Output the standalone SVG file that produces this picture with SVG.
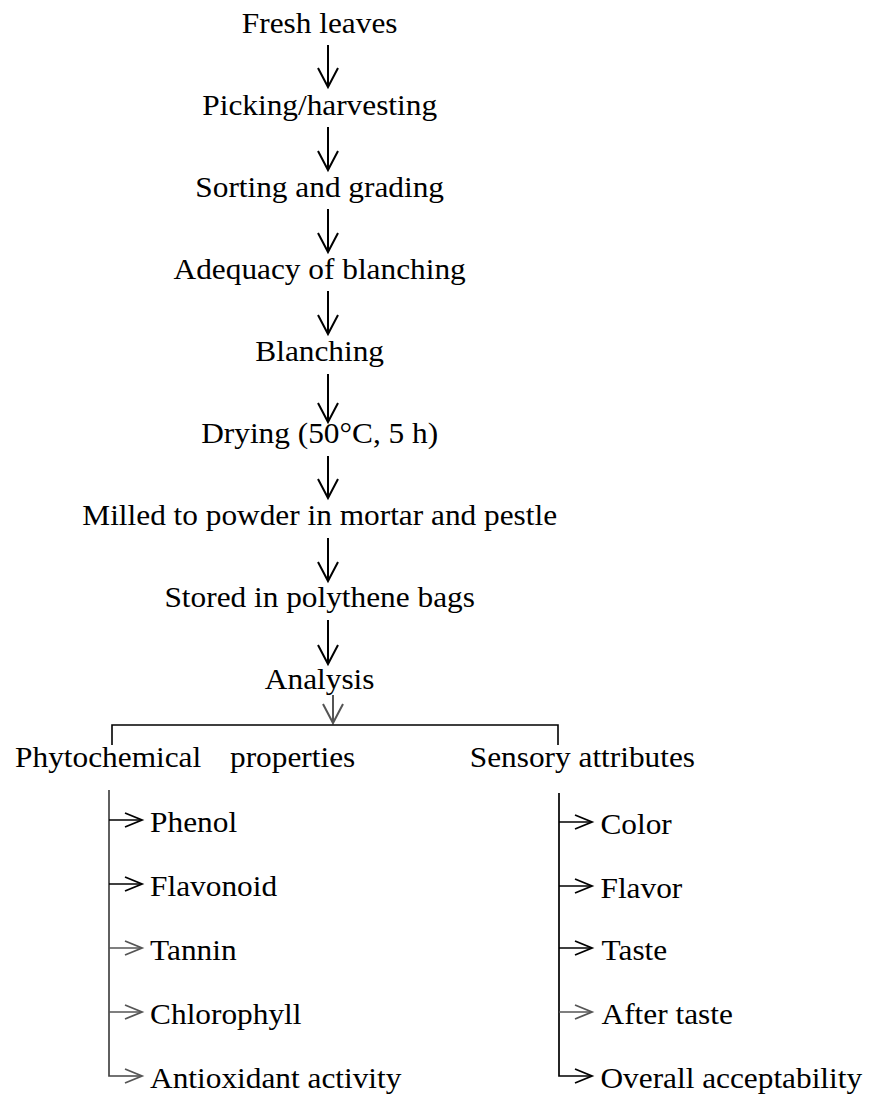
<svg xmlns="http://www.w3.org/2000/svg" width="875" height="1097" viewBox="0 0 875 1097">
<style>
text{font-family:"Liberation Serif","Times New Roman",serif;font-size:29px;fill:#000}
.c{text-anchor:middle}
.ln{fill:none;stroke:#000;stroke-width:2}
.g{stroke:#555}
.br{fill:none;stroke:#000;stroke-width:1.6}
.sl{fill:none;stroke-width:1.7}
</style>
<defs>
<marker id="ah" markerUnits="userSpaceOnUse" markerWidth="24" markerHeight="24" refX="19" refY="11" orient="auto" overflow="visible">
<path d="M0,1 L19,11 L0,21" fill="none" stroke="#000" stroke-width="2"/>
</marker>
<marker id="ahg" markerUnits="userSpaceOnUse" markerWidth="24" markerHeight="24" refX="19" refY="11" orient="auto" overflow="visible">
<path d="M0,1 L19,11 L0,21" fill="none" stroke="#555" stroke-width="2"/>
</marker>
<marker id="as" markerUnits="userSpaceOnUse" markerWidth="20" markerHeight="18" refX="17" refY="8" orient="auto" overflow="visible">
<path d="M0,1 L17,8 L0,15" fill="none" stroke="#000" stroke-width="1.8"/>
</marker>
<marker id="asg" markerUnits="userSpaceOnUse" markerWidth="20" markerHeight="18" refX="17" refY="8" orient="auto" overflow="visible">
<path d="M0,1 L17,8 L0,15" fill="none" stroke="#555" stroke-width="1.8"/>
</marker>
</defs>
<g id="connectors">
<line class="ln" x1="328" y1="45" x2="328" y2="87" marker-end="url(#ah)"/>
<line class="ln" x1="328" y1="127" x2="328" y2="170" marker-end="url(#ah)"/>
<line class="ln" x1="328" y1="209" x2="328" y2="252" marker-end="url(#ah)"/>
<line class="ln" x1="328" y1="291" x2="328" y2="334" marker-end="url(#ah)"/>
<line class="ln" x1="328" y1="374" x2="328" y2="422" marker-end="url(#ah)"/>
<line class="ln" x1="328" y1="456" x2="328" y2="498" marker-end="url(#ah)"/>
<line class="ln" x1="328" y1="538" x2="328" y2="581" marker-end="url(#ah)"/>
<line class="ln" x1="328" y1="620" x2="328" y2="664" marker-end="url(#ah)"/>
<line class="ln g" x1="333" y1="695" x2="333" y2="723" marker-end="url(#ahg)"/>
<path class="br" d="M112,745 V725 H558 V745"/>
<path class="sl" stroke="#444" d="M109,790 V1076 H142" marker-end="url(#asg)"/>
<line class="sl" stroke="#000" x1="109" y1="820" x2="142" y2="820" marker-end="url(#as)"/>
<line class="sl" stroke="#000" x1="109" y1="884" x2="142" y2="884" marker-end="url(#as)"/>
<line class="sl" stroke="#555" x1="109" y1="948" x2="142" y2="948" marker-end="url(#asg)"/>
<line class="sl" stroke="#555" x1="109" y1="1012" x2="142" y2="1012" marker-end="url(#asg)"/>
<path class="sl" stroke="#000" d="M559,793 V1076 H592" marker-end="url(#as)"/>
<line class="sl" stroke="#000" x1="559" y1="822" x2="592" y2="822" marker-end="url(#as)"/>
<line class="sl" stroke="#000" x1="559" y1="886" x2="592" y2="886" marker-end="url(#as)"/>
<line class="sl" stroke="#000" x1="559" y1="948" x2="592" y2="948" marker-end="url(#as)"/>
<line class="sl" stroke="#555" x1="559" y1="1012" x2="592" y2="1012" marker-end="url(#asg)"/>
</g>
<g id="n-fresh"><text class="c" transform="scale(1.08 1)" x="296" y="33">Fresh leaves</text></g>
<g id="n-picking"><text class="c" transform="scale(1.08 1)" x="296" y="115">Picking/harvesting</text></g>
<g id="n-sorting"><text class="c" transform="scale(1.08 1)" x="296" y="197">Sorting and grading</text></g>
<g id="n-adequacy"><text class="c" transform="scale(1.08 1)" x="296" y="279">Adequacy of blanching</text></g>
<g id="n-blanching"><text class="c" transform="scale(1.08 1)" x="296" y="361">Blanching</text></g>
<g id="n-drying"><text class="c" transform="scale(1.08 1)" x="296" y="443">Drying (50°C, 5 h)</text></g>
<g id="n-milled"><text class="c" transform="scale(1.08 1)" x="296" y="525">Milled to powder in mortar and pestle</text></g>
<g id="n-stored"><text class="c" transform="scale(1.08 1)" x="296" y="607">Stored in polythene bags</text></g>
<g id="n-analysis"><text class="c" transform="scale(1.08 1)" x="296" y="689">Analysis</text></g>
<g id="n-phyto"><text transform="scale(1.08 1)" x="14" y="767">Phytochemical <tspan x="213">properties</tspan></text></g>
<g id="n-sensory"><text transform="scale(1.08 1)" x="435" y="767">Sensory attributes</text></g>
<g id="n-phenol"><text transform="scale(1.08 1)" x="139" y="832">Phenol</text></g>
<g id="n-flavonoid"><text transform="scale(1.08 1)" x="139" y="896">Flavonoid</text></g>
<g id="n-tannin"><text transform="scale(1.08 1)" x="139" y="960">Tannin</text></g>
<g id="n-chlorophyll"><text transform="scale(1.08 1)" x="139" y="1024">Chlorophyll</text></g>
<g id="n-antioxidant"><text transform="scale(1.08 1)" x="139" y="1088">Antioxidant activity</text></g>
<g id="n-color"><text transform="scale(1.08 1)" x="556" y="834">Color</text></g>
<g id="n-flavor"><text transform="scale(1.08 1)" x="556" y="898">Flavor</text></g>
<g id="n-taste"><text transform="scale(1.08 1)" x="557" y="960">Taste</text></g>
<g id="n-aftertaste"><text transform="scale(1.08 1)" x="557" y="1024">After taste</text></g>
<g id="n-overall"><text transform="scale(1.08 1)" x="556" y="1088">Overall acceptability</text></g>
</svg>
